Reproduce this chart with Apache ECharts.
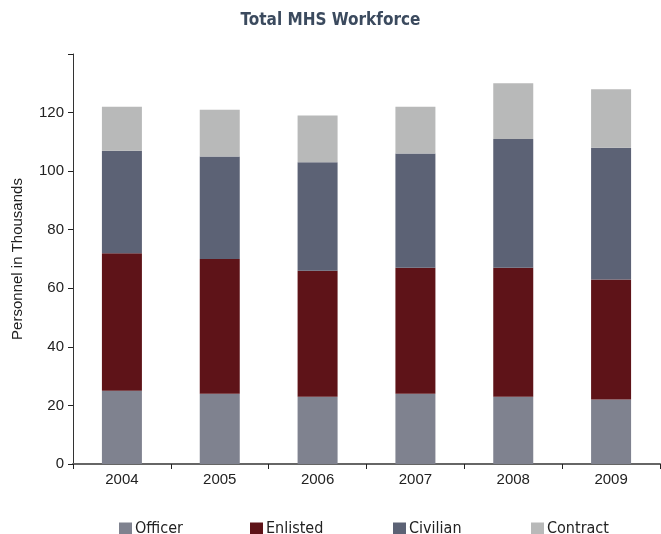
<!DOCTYPE html>
<html><head><meta charset="utf-8">
<script src="https://cdn.jsdelivr.net/npm/echarts@6/dist/echarts.min.js"></script>
<style>html,body{margin:0;padding:0;background:#fff}#c{width:661px;height:534px}</style>
</head><body><div id="c"></div>
<script>
const years = ['2004','2005','2006','2007','2008','2009'];
const officer = [25, 24, 23, 24, 23, 22];
const enlisted = [47, 46, 43, 43, 44, 41];
const civilian = [35, 35, 37, 39, 44, 45];
const contract = [15, 16, 16, 16, 19, 20];
const seriesNames = ['Officer','Enlisted','Civilian','Contract'];
const colors = ['#7f828f','#5e1318','#5c6275','#b8b9b9'];
const yTicks = [0, 20, 40, 60, 80, 100, 120];

const narrow = "'Liberation Sans Narrow','DejaVu Sans Condensed',sans-serif";
const sans = "'Liberation Sans',Arial,sans-serif";
const chart = echarts.init(document.getElementById('c'), null, {renderer:'canvas'});
const data = [officer, enlisted, civilian, contract];
const legendLeft = [114, 245, 388, 526];
chart.setOption({
  animation: false,
  title: {text: 'Total MHS Workforce', left: 'center', top: 7,
    textStyle: {fontFamily: narrow, fontWeight: 'bold', fontSize: 17, color: '#3b4a5e'}},
  legend: seriesNames.map((n, i) => ({
    data: [n], left: legendLeft[i], top: 516, itemWidth: 13, itemHeight: 13, itemGap: 4,
    icon: 'rect', selectedMode: false,
    textStyle: {fontFamily: narrow, fontSize: 16, color: '#222', padding: [0,0,0,-2]}
  })),
  grid: {left: 73, right: 1, top: 54, bottom: 70},
  xAxis: {type: 'category', data: years,
    axisLine: {lineStyle: {color: '#666', width: 2}},
    axisTick: {show: true, length: 5, inside: false, lineStyle: {color: '#222'}},
    axisLabel: {fontFamily: sans, fontSize: 15, color: '#222', margin: 8}},
  yAxis: {type: 'value', min: 0, max: 140, interval: 20,
    name: 'Personnel in Thousands', nameLocation: 'middle', nameGap: 48,
    nameTextStyle: {fontFamily: sans, fontSize: 15, color: '#222'},
    axisLine: {show: true, lineStyle: {color: '#333', width: 1}},
    axisTick: {show: true, length: 5, lineStyle: {color: '#222'}},
    splitLine: {show: false},
    axisLabel: {fontFamily: sans, fontSize: 15, color: '#222', margin: 9,
      formatter: v => yTicks.includes(v) ? String(v) : ''}},
  series: seriesNames.map((n, i) => ({
    name: n, type: 'bar', stack: 'total', data: data[i], barWidth: 40,
    itemStyle: {color: colors[i]}
  }))
});
</script></body></html>
